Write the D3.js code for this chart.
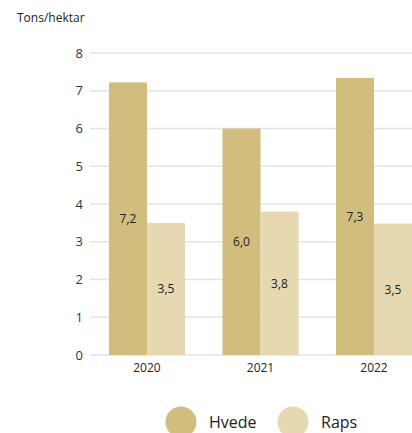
<!DOCTYPE html>
<html><head><meta charset="utf-8">
<script src="https://cdn.jsdelivr.net/npm/d3@7"></script>
<style>
html,body{margin:0;padding:0;background:#fff;overflow:hidden}
svg{display:block;font-family:"Open Sans","Noto Sans",sans-serif}
</style></head>
<body>
<script>
const years = ["2020", "2021", "2022"];
const seriesNames = ["Hvede", "Raps"];
const hvede = [7.22, 6.0, 7.34];
const raps = [3.5, 3.8, 3.48];
const yTicks = [0, 1, 2, 3, 4, 5, 6, 7, 8];
const colors = ["#d1bd7e", "#e6d8b0"];
const yTitle = "Tons/hektar";

const W = 412, H = 433;
const svg = d3.select("body").append("svg").attr("width", W).attr("height", H);

const y = d3.scaleLinear().domain([0, 8]).range([355, 53]);
const x0 = d3.scaleBand().domain(years).range([90, 431]).paddingInner(0.33).paddingOuter(0.167);
const x1 = d3.scaleBand().domain(seriesNames).range([0, x0.bandwidth()]);

svg.append("text").attr("x", 17).attr("y", 22).attr("font-size", 12).attr("fill", "#222").text(yTitle);

// grid
svg.append("g").selectAll("line").data(yTicks).join("line")
  .attr("x1", 90).attr("x2", W).attr("y1", d => y(d)).attr("y2", d => y(d))
  .attr("stroke", "#e4e4e4").attr("stroke-width", 1.5);

svg.append("g").selectAll("text").data(yTicks).join("text")
  .attr("x", 83).attr("y", d => y(d)).attr("dy", "0.36em").attr("text-anchor", "end")
  .attr("font-size", 13).attr("fill", "#333").text(d => d);

const data = years.map((yr, i) => ({ year: yr, vals: [hvede[i], raps[i]] }));
const g = svg.append("g").selectAll("g").data(data).join("g")
  .attr("transform", d => `translate(${x0(d.year)},0)`);

const fmt = v => v.toFixed(1).replace(".", ",");
g.selectAll("rect").data(d => d.vals.map((v, j) => ({ v, s: seriesNames[j], j }))).join("rect")
  .attr("x", d => x1(d.s)).attr("width", x1.bandwidth())
  .attr("y", d => y(d.v)).attr("height", d => y(0) - y(d.v))
  .attr("fill", d => colors[d.j]);

g.selectAll("text.lbl").data(d => d.vals.map((v, j) => ({ v, s: seriesNames[j], j }))).join("text")
  .attr("class", "lbl")
  .attr("x", d => x1(d.s) + x1.bandwidth() / 2)
  .attr("y", d => (y(d.v) + y(0)) / 2).attr("dy", "0.36em")
  .attr("text-anchor", "middle").attr("font-size", 12).attr("fill", "#222")
  .text(d => fmt(d.v));

svg.append("g").selectAll("text").data(years).join("text")
  .attr("x", d => x0(d) + x0.bandwidth() / 2).attr("y", 372)
  .attr("text-anchor", "middle").attr("font-size", 12).attr("fill", "#222").text(d => d);

// legend
const legX = [181, 293];
const leg = svg.append("g").selectAll("g").data(seriesNames).join("g");
leg.append("circle").attr("cx", (d, i) => legX[i]).attr("cy", 422).attr("r", 15.5).attr("fill", (d, i) => colors[i]);
leg.append("text").attr("x", (d, i) => legX[i] + 28).attr("y", 422).attr("dy", "0.36em")
  .attr("font-size", 16).attr("fill", "#222").text(d => d);
</script>
</body></html>
